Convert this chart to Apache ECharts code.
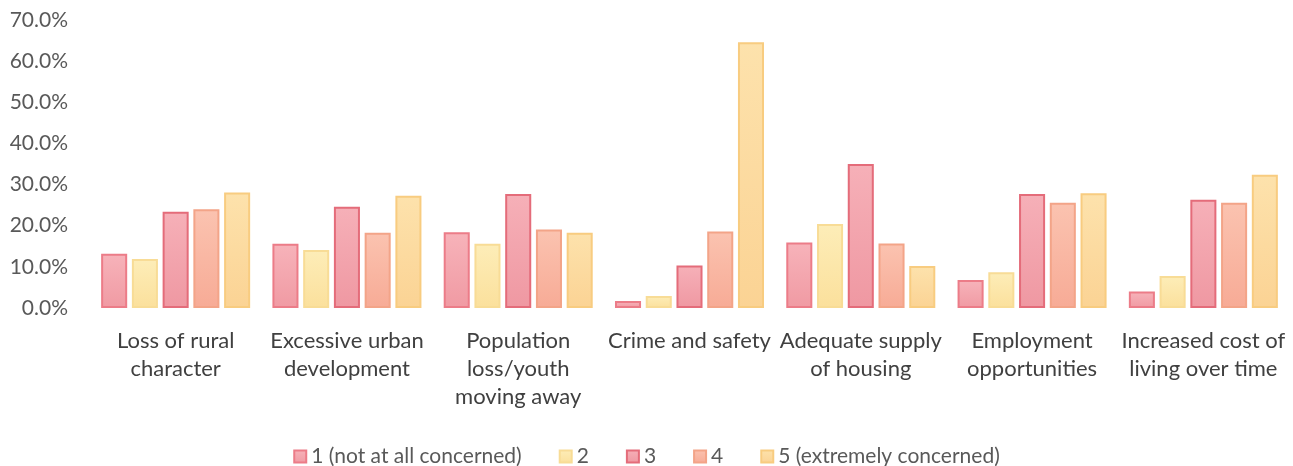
<!DOCTYPE html>
<html>
<head>
<meta charset="utf-8">
<script src="https://cdn.jsdelivr.net/npm/echarts@6/dist/echarts.min.js"></script>
<style>
  html, body { margin: 0; padding: 0; background: #fff; }
  #main { width: 1293px; height: 466px; }
</style>
</head>
<body>
<div id="main"></div>
<script>
// categories and values (percent)
var categories = [
  'Loss of rural\ncharacter',
  'Excessive urban\ndevelopment',
  'Population\nloss/youth\nmoving away',
  'Crime and safety',
  'Adequate supply\nof housing',
  'Employment\nopportunities',
  'Increased cost of\nliving over time'
];
var seriesNames = ['1 (not at all concerned)', '2', '3', '4', '5 (extremely concerned)'];
var level1 = [13.2, 15.6, 18.4, 1.7, 15.9, 6.8, 4.0];
var level2 = [11.9, 14.1, 15.6, 2.9, 20.4, 8.7, 7.8];
var level3 = [23.4, 24.6, 27.7, 10.3, 35.0, 27.7, 26.3];
var level4 = [24.0, 18.3, 19.1, 18.6, 15.7, 25.6, 25.6];
var level5 = [28.1, 27.3, 18.3, 64.6, 10.2, 27.9, 32.4];
var yTicks = [0, 10, 20, 30, 40, 50, 60, 70];

var fills = [
  ['#f7b3ba', '#f09aa3'],
  ['#fdedb8', '#fbe09c'],
  ['#f6b0b8', '#ef98a2'],
  ['#fbc3b0', '#f7ab96'],
  ['#fde2ac', '#fbd394']
];
var borders = ['#ec7c88', '#f8dc96', '#e46c7a', '#f3a488', '#f8cc80'];

var allData = [level1, level2, level3, level4, level5];

var myChart = echarts.init(document.getElementById('main'));

var series = allData.map(function (d, i) {
  return {
    name: seriesNames[i],
    type: 'bar',
    data: d,
    barGap: '18%',
    barCategoryGap: '13%',
    itemStyle: {
      color: new echarts.graphic.LinearGradient(0, 0, 0, 1, [
        { offset: 0, color: fills[i][0] },
        { offset: 1, color: fills[i][1] }
      ]),
      borderColor: borders[i],
      borderWidth: 2
    }
  };
});

myChart.setOption({
  animation: false,
  textStyle: { fontFamily: 'Lato, "Open Sans", sans-serif' },
  grid: { left: 90, right: 4, top: 20, bottom: 158 },
  legend: {
    top: 441,
    left: 'center',
    itemWidth: 12,
    itemHeight: 12,
    itemGap: 37,
    icon: 'rect',
    textStyle: { fontSize: 21, color: '#595959' },
    data: seriesNames
  },
  xAxis: {
    type: 'category',
    data: categories,
    axisLine: { show: false },
    axisTick: { show: false },
    axisLabel: {
      interval: 0,
      fontSize: 22,
      lineHeight: 28,
      color: '#404040',
      margin: 19
    }
  },
  yAxis: {
    type: 'value',
    min: yTicks[0],
    max: yTicks[yTicks.length - 1],
    interval: 10,
    splitLine: { show: false },
    axisLine: { show: false },
    axisTick: { show: false },
    axisLabel: {
      fontSize: 21,
      color: '#595959',
      margin: 22,
      formatter: function (v) { return v.toFixed(1) + '%'; }
    }
  },
  series: series
});
</script>
</body>
</html>
